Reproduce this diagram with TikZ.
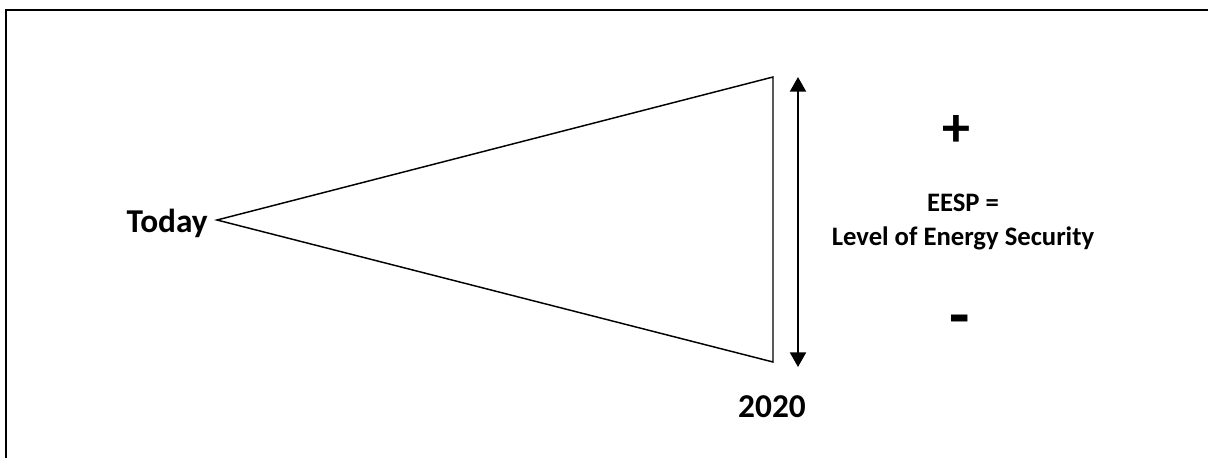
\documentclass[tikz,border=0pt]{standalone}
\usepackage{fontspec}
\setmainfont{Carlito}
\usetikzlibrary{arrows.meta}
\begin{document}
\begin{tikzpicture}[
  x=0.75pt, y=-0.75pt,
  bigtext/.style={font=\bfseries\fontsize{25}{30}\selectfont, inner sep=0pt},
  smalltext/.style={font=\bfseries\fontsize{20}{25}\selectfont, inner sep=0pt, align=center},
  signtext/.style={font=\bfseries\fontsize{42}{42}\selectfont, inner sep=0pt},
  cone/.style={draw=black, line width=1.1pt, line join=miter},
  spanarrow/.style={draw=black, line width=1.6pt, {Triangle[length=11pt, width=12pt]}-{Triangle[length=11pt, width=12pt]}}
]
\useasboundingbox (0,0) rectangle (1208,458);
% frame
\draw[line width=1.6pt] (6,458) -- (6,10) -- (1208,10);
% cone
\coordinate (apex) at (217,220);
\coordinate (high) at (773,77);
\coordinate (low) at (773,362);
\draw[cone] (apex) -- (high) -- (low) -- cycle;
% range arrow
\coordinate (rtop) at (798,77);
\coordinate (rbot) at (798,367);
\draw[spanarrow] (rtop) -- (rbot);
% texts
\node[bigtext, anchor=east] (today) at (208,223) {Today};
\node[bigtext] (year) at (772,407) {2020};
\node[signtext] (plus) at (956,131) {+};
\node[smalltext] (eesp) at (963,222) {EESP =\\Level of Energy Security};
\node[signtext, font=\bfseries\fontsize{50}{50}\selectfont] (minus) at (960,326) {-};
\end{tikzpicture}
\end{document}
